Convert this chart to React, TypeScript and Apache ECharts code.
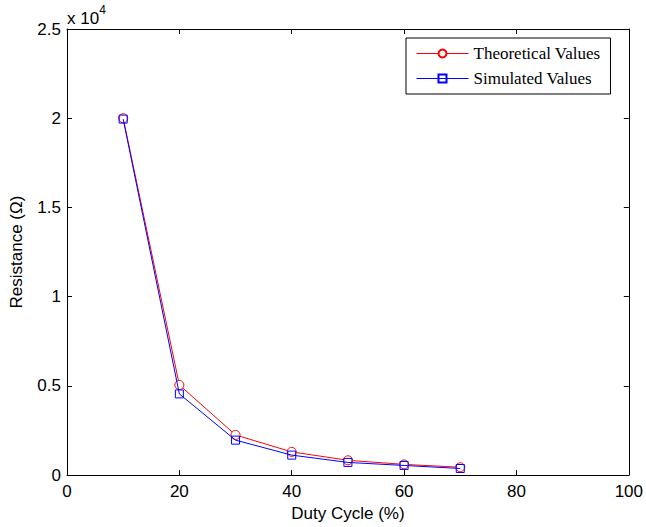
import React, { useEffect, useRef } from "react";
import * as echarts from "echarts";

const dutyCycle = [10, 20, 30, 40, 50, 60, 70];
const theoretical = [20000, 5050, 2250, 1300, 830, 600, 440];
const simulated = [19950, 4550, 1960, 1120, 710, 540, 370];
const xTicks = [0, 20, 40, 60, 80, 100];
const yTickLabels = ["0", "0.5", "1", "1.5", "2", "2.5"];

const sans = "Liberation Sans, Arial, Helvetica, sans-serif";
const serif = "Liberation Serif, Times New Roman, serif";

export default function App() {
  const ref = useRef<HTMLDivElement>(null);
  useEffect(() => {
    if (!ref.current) return;
    const chart = echarts.init(ref.current, null, { renderer: "svg" });
    const tickCommon = {
      axisLine: { show: true, onZero: false, lineStyle: { color: "#000", width: 1 } },
      axisTick: { show: true, inside: true, length: 5, lineStyle: { color: "#000" } },
      splitLine: { show: false },
    };
    chart.setOption({
      animation: false,
      backgroundColor: "#fff",
      grid: { left: 67, right: 15, top: 29, bottom: 51, containLabel: false },
      xAxis: [
        {
          type: "value",
          min: 0,
          max: 100,
          interval: 20,
          ...tickCommon,
          axisLabel: {
            color: "#000",
            fontFamily: sans,
            fontSize: 17,
            margin: 8,
            formatter: (v: number) => (xTicks.includes(v) ? String(v) : ""),
          },
          name: "Duty Cycle (%)",
          nameLocation: "middle",
          nameGap: 26,
          nameTextStyle: { color: "#000", fontFamily: sans, fontSize: 17 },
        },
        {
          type: "value",
          position: "top",
          min: 0,
          max: 100,
          interval: 20,
          ...tickCommon,
          axisLabel: { show: false },
        },
      ],
      yAxis: [
        {
          type: "value",
          min: 0,
          max: 25000,
          interval: 5000,
          ...tickCommon,
          axisLabel: {
            color: "#000",
            fontFamily: sans,
            fontSize: 17,
            margin: 6,
            formatter: (v: number) => yTickLabels[Math.round(v / 5000)] ?? "",
          },
          name: "Resistance (Ω)",
          nameLocation: "middle",
          nameGap: 42,
          nameTextStyle: { color: "#000", fontFamily: sans, fontSize: 17 },
        },
        {
          type: "value",
          position: "right",
          min: 0,
          max: 25000,
          interval: 5000,
          ...tickCommon,
          axisLabel: { show: false },
        },
      ],
      legend: {
        orient: "vertical",
        left: 406,
        top: 38,
        width: 216,
        padding: [7, 10, 7, 10],
        itemGap: 8,
        itemWidth: 52,
        itemHeight: 10,
        borderColor: "#000",
        borderWidth: 1,
        backgroundColor: "#fff",
        lineStyle: { width: 1 },
        textStyle: { color: "#000", fontFamily: serif, fontSize: 17, width: 140 },
        data: ["Theoretical Values", "Simulated Values"],
      },
      graphic: [
        {
          type: "text",
          left: 67,
          top: 4,
          style: {
            text: "{a|x 10}{b|4}",
            rich: {
              a: { fontFamily: sans, fontSize: 17, fill: "#000", verticalAlign: "bottom", padding: [6, 0, 0, 0] },
              b: { fontFamily: sans, fontSize: 12, fill: "#000", verticalAlign: "top" },
            },
          },
        },
      ],
      series: [
        {
          name: "Theoretical Values",
          type: "line",
          data: dutyCycle.map((d, i) => [d, theoretical[i]]),
          symbol: "circle",
          symbolSize: 9,
          showAllSymbol: true,
          lineStyle: { color: "#ff0000", width: 1 },
          itemStyle: { color: "#fff", borderColor: "#ff0000", borderWidth: 1 },
          color: "#ff0000",
          z: 2,
        },
        {
          name: "Simulated Values",
          type: "line",
          data: dutyCycle.map((d, i) => [d, simulated[i]]),
          symbol: "rect",
          symbolSize: 8,
          showAllSymbol: true,
          lineStyle: { color: "#0000ff", width: 1 },
          itemStyle: { color: "rgba(255,255,255,0)", borderColor: "#0000ff", borderWidth: 1 },
          color: "#0000ff",
          z: 3,
        },
      ],
    });
    return () => chart.dispose();
  }, []);
  return (
    <div
      ref={ref}
      style={{ position: "fixed", left: 0, top: 0, width: 646, height: 527 }}
    />
  );
}
